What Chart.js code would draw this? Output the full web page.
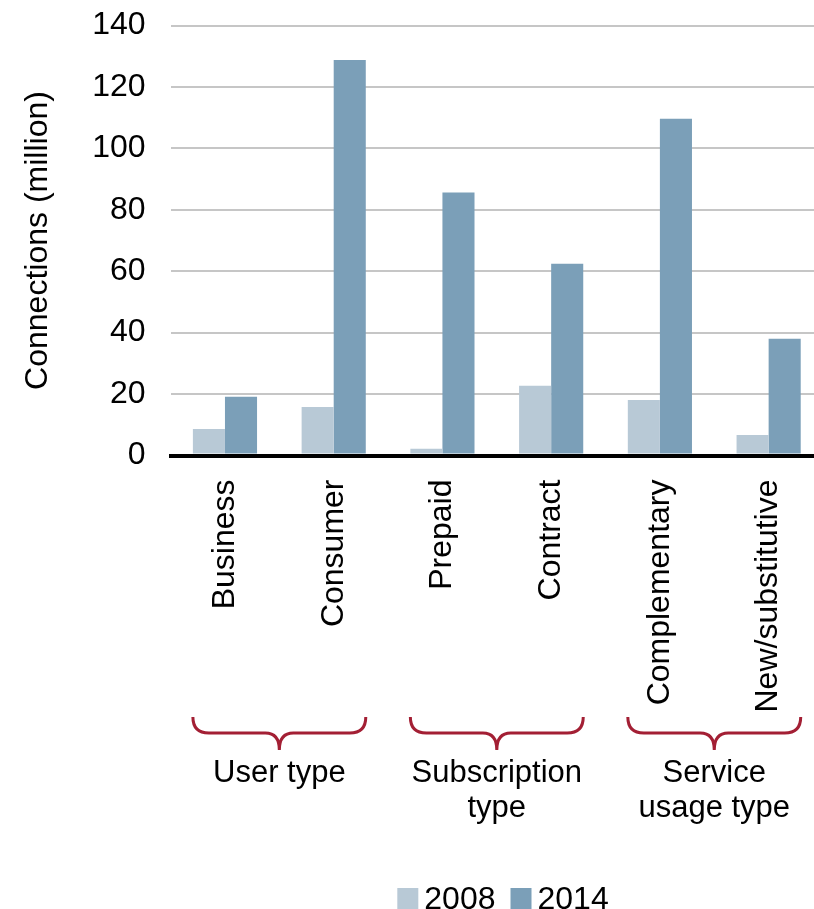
<!DOCTYPE html>
<html>
<head>
<meta charset="utf-8">
<script src="https://cdn.jsdelivr.net/npm/chart.js@4/dist/chart.umd.min.js"></script>
<style>
  html, body { margin: 0; padding: 0; background: #fff; overflow: hidden; }
  body { width: 814px; height: 909px; }
  /* the plot runs a little past the right edge, as in the original */
  #wrap { width: 823px; height: 909px; }
</style>
</head>
<body>
<div id="wrap"><canvas id="connChart"></canvas></div>
<script>
// categories and values
const categories = ['Business', 'Consumer', 'Prepaid', 'Contract', 'Complementary', 'New/substitutive'];
const values2008 = [8.6, 15.8, 2.2, 22.7, 18.1, 6.7];
const values2014 = [19.1, 128.8, 85.6, 62.4, 109.6, 38.0];
const seriesNames = ['2008', '2014'];

// groups under the braces (first and last category index)
const groupNames = [['User type'], ['Subscription', 'type'], ['Service', 'usage type']];
const groupRanges = [[0, 1], [2, 3], [4, 5]];

const yMax = 140;
const yStep = 20;

const FONT = '"Liberation Sans", Arial, sans-serif';
const FONT_SIZE = 32;
const lightBlue = '#b8c9d6';
const darkBlue = '#7b9fb8';
const braceRed = '#a31f34';

// braces, group labels and legend below the axis labels
const bracesPlugin = {
    id: 'braces',
    afterDraw(chart) {
        const ctx = chart.ctx;
        const m0 = chart.getDatasetMeta(0);
        const m1 = chart.getDatasetMeta(1);
        ctx.save();
        groupRanges.forEach((r, gi) => {
            const a = m0.data[r[0]];
            const b = m1.data[r[1]];
            const x1 = a.x - a.width / 2;
            const x2 = b.x + b.width / 2;
            const mid = (x1 + x2) / 2;
            const top = 717, line = 733, tip = 750;

            ctx.beginPath();
            ctx.moveTo(x1, top);
            ctx.quadraticCurveTo(x1, line, x1 + 16, line);
            ctx.lineTo(mid - 14, line);
            ctx.quadraticCurveTo(mid, line, mid, tip);
            ctx.quadraticCurveTo(mid, line, mid + 14, line);
            ctx.lineTo(x2 - 16, line);
            ctx.quadraticCurveTo(x2, line, x2, top);
            ctx.strokeStyle = braceRed;
            ctx.lineWidth = 3;
            ctx.stroke();

            ctx.fillStyle = '#000';
            ctx.font = '31px ' + FONT;
            ctx.textAlign = 'center';
            ctx.textBaseline = 'middle';
            groupNames[gi].forEach((txt, li) => {
                ctx.fillText(txt, mid, 773 + li * 35);
            });
        });

        // legend
        ctx.font = FONT_SIZE + 'px ' + FONT;
        ctx.textAlign = 'left';
        ctx.textBaseline = 'alphabetic';
        const sq = 21, gap = 6, between = 15;
        const colors = [lightBlue, darkBlue];
        const widths = seriesNames.map(s => ctx.measureText(s).width);
        const total = widths.reduce((s, w) => s + sq + gap + w, 0) + between;
        let x = 503 - total / 2;
        seriesNames.forEach((s, i) => {
            ctx.fillStyle = colors[i];
            ctx.fillRect(x, 888, sq, sq);
            x += sq + gap;
            ctx.fillStyle = '#000';
            ctx.fillText(s, x, 909);
            x += widths[i] + between;
        });
        ctx.restore();
    }
};

const ctx = document.getElementById('connChart').getContext('2d');

new Chart(ctx, {
    type: 'bar',
    data: {
        labels: categories,
        datasets: [
            { label: seriesNames[0], data: values2008, backgroundColor: lightBlue },
            { label: seriesNames[1], data: values2014, backgroundColor: darkBlue }
        ]
    },
    options: {
        responsive: true,
        maintainAspectRatio: false,
        animation: false,
        categoryPercentage: 0.59,
        barPercentage: 1.0,
        layout: { padding: { top: 25.5, right: 0, bottom: 0, left: 0 } },
        plugins: {
            legend: { display: false },
            tooltip: { enabled: false }
        },
        scales: {
            x: {
                grid: { display: false, drawTicks: false },
                border: { display: true, color: '#000', width: 4 },
                ticks: {
                    color: '#000',
                    font: { family: FONT, size: FONT_SIZE },
                    minRotation: 90,
                    maxRotation: 90,
                    padding: 24,
                    autoSkip: false
                },
                afterFit(axis) {
                    axis.height = 909 - 455.5;
                    axis.paddingLeft = 0;
                    axis.paddingRight = 0;
                }
            },
            y: {
                min: 0,
                max: yMax,
                grid: {
                    drawTicks: false,
                    color: c => (c.tick && c.tick.value === 0 ? '#000' : '#c6c6c6'),
                    lineWidth: c => (c.tick && c.tick.value === 0 ? 4 : 2)
                },
                border: { display: false },
                ticks: {
                    stepSize: yStep,
                    color: '#000',
                    font: { family: FONT, size: FONT_SIZE },
                    padding: 25
                },
                title: {
                    display: true,
                    text: 'Connections (million)',
                    color: '#000',
                    font: { family: FONT, size: FONT_SIZE },
                    padding: { top: 19, bottom: 0 }
                },
                afterFit(axis) {
                    axis.width = 170.6;
                    axis.paddingTop = 0;
                    axis.paddingBottom = 0;
                }
            }
        }
    },
    plugins: [bracesPlugin]
});
</script>
</body>
</html>
